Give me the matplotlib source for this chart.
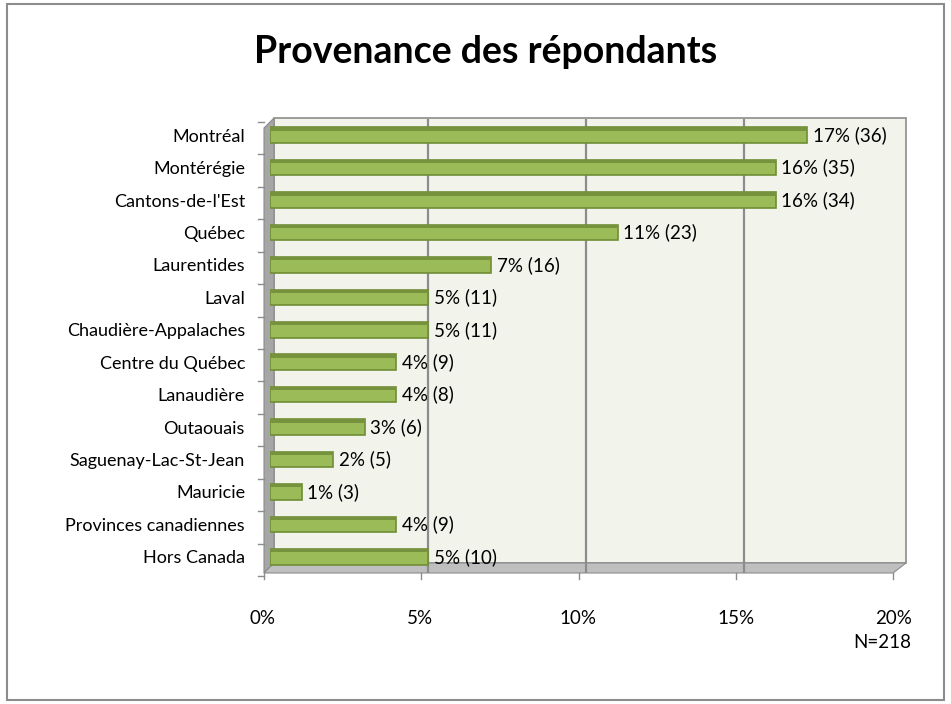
import matplotlib
matplotlib.use("Agg")
import matplotlib.pyplot as plt
from matplotlib.patches import Rectangle, Polygon
from matplotlib.transforms import ScaledTranslation

plt.rcParams['font.family'] = ['Lato', 'DejaVu Sans']

categories = ["Montréal", "Montérégie", "Cantons-de-l'Est", "Québec", "Laurentides",
              "Laval", "Chaudière-Appalaches", "Centre du Québec", "Lanaudière",
              "Outaouais", "Saguenay-Lac-St-Jean", "Mauricie",
              "Provinces canadiennes", "Hors Canada"]
percent = [17, 16, 16, 11, 7, 5, 5, 4, 4, 3, 2, 1, 4, 5]
counts = [36, 35, 34, 23, 16, 11, 11, 9, 8, 6, 5, 3, 9, 10]
xticks = [0, 5, 10, 15, 20]
xticklabels = ["0%", "5%", "10%", "15%", "20%"]
title = "Provenance des répondants"
note = "N=218"

W, H = 951, 704
dpi = 100
fig = plt.figure(figsize=(W / dpi, H / dpi), dpi=dpi)
fig.patch.set_facecolor("white")

bg = fig.add_axes([0, 0, 1, 1], zorder=0)
bg.set_xlim(0, W)
bg.set_ylim(H, 0)
bg.axis("off")
bg.add_patch(Rectangle((7, 4), 937, 696, fill=False, edgecolor="#8C8C8C", linewidth=1.5))
bg.add_patch(Polygon([(274, 563), (274, 118), (906, 118), (906, 563)], closed=True,
                     facecolor="#F2F4EC", edgecolor="#8C8C8C", linewidth=1.2))
bg.add_patch(Polygon([(264, 573), (264, 128), (274, 118), (274, 563)], closed=True,
                     facecolor="#A6A6A6", edgecolor="#8C8C8C", linewidth=0.8))
bg.add_patch(Polygon([(264, 573), (274, 563), (906, 563), (893, 573)], closed=True,
                     facecolor="#BFBFBF", edgecolor="#8C8C8C", linewidth=0.8))
n = len(categories)
for i in range(n + 1):
    yb = 119 + (573 - 119) * i / n + 3
    bg.plot([258, 264], [yb, yb], color="#8C8C8C", linewidth=1)
for t in xticks:
    xp = 264 + (893 - 264) * t / 20
    bg.plot([xp, xp], [573, 579], color="#8C8C8C", linewidth=1)

left, right, top, bottom = 270, 902, 119, 573
ax = fig.add_axes([left / W, 1 - bottom / H, (right - left) / W, (bottom - top) / H], zorder=1)
ax.set_facecolor("none")
ax.set_xlim(0, 20)
ax.set_ylim(n - 0.5, -0.5)

for t in xticks[1:-1]:
    ax.axvline(t, color="#8C8C8C", linewidth=1.6, zorder=1)

ypos = list(range(n))
bh = 0.48
ax.barh(ypos, percent, height=bh, color="#9BBB59", edgecolor="#6F8E34",
        linewidth=1.2, zorder=3)
ax.barh([y - bh / 2 + 0.05 for y in ypos], percent, height=0.1,
        color="#76923C", linewidth=0, zorder=4)

fs = 13
for y, p, c in zip(ypos, percent, counts):
    ax.text(p + 0.18, y, f"{p}% ({c})", va="center", ha="left", fontsize=fs + 0.5,
            color="black", zorder=5)

ax.set_yticks(ypos)
ax.set_yticklabels(categories, fontsize=fs)
ax.tick_params(axis="y", length=0, pad=18)
ax.set_xticks(xticks)
ax.set_xticklabels(xticklabels, fontsize=fs + 0.5)
ax.tick_params(axis="x", length=0, pad=27)
off = ScaledTranslation(-8 / dpi, 0, fig.dpi_scale_trans)
for lbl in ax.get_xticklabels():
    lbl.set_transform(lbl.get_transform() + off)
for s in ax.spines.values():
    s.set_visible(False)

fig.text(486 / W, 1 - 52 / H, title, ha="center", va="center", fontsize=27,
         fontweight="bold")
fig.text(911 / W, 1 - 643 / H, note, ha="right", va="center", fontsize=fs + 0.5)

fig.savefig("out.png", dpi=dpi)
